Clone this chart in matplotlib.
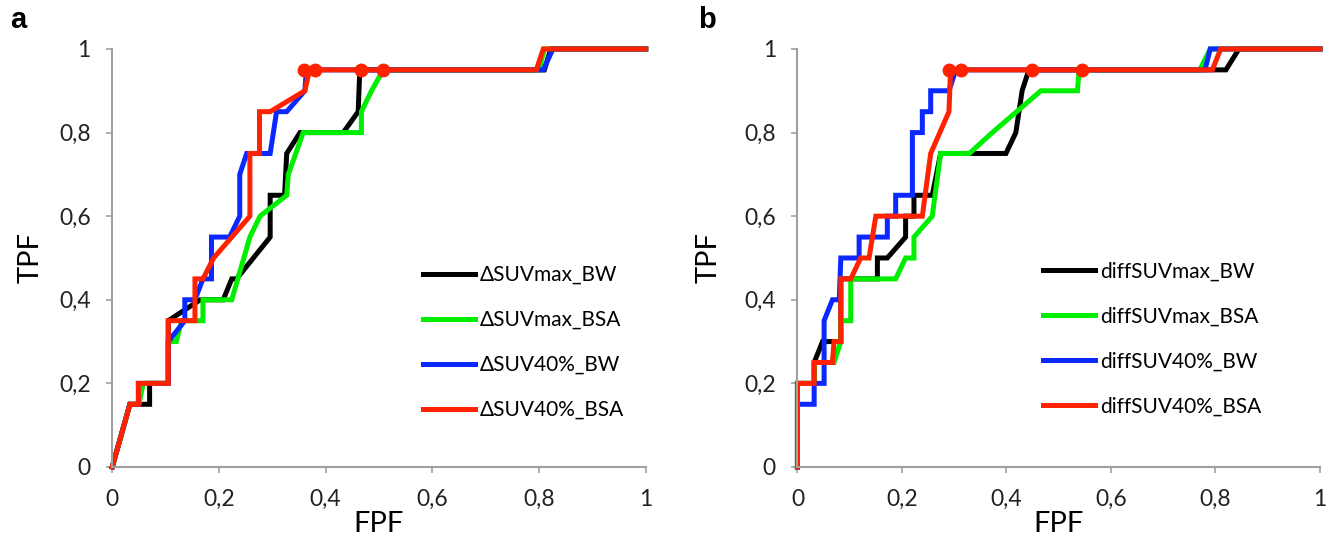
import matplotlib
matplotlib.use("Agg")
import matplotlib.pyplot as plt

plt.rcParams['font.family'] = ['Lato', 'DejaVu Sans']

# panel a: ROC curves (FPF, TPF)
a_black_fpf = [0, 0.033, 0.07, 0.07, 0.105, 0.105, 0.165, 0.208, 0.224, 0.233, 0.296, 0.296, 0.323, 0.327, 0.352, 0.433, 0.461, 0.464, 0.81, 0.822, 1]
a_black_tpf = [0, 0.15, 0.15, 0.2, 0.2, 0.35, 0.4, 0.4, 0.45, 0.45, 0.55, 0.65, 0.65, 0.75, 0.8, 0.8, 0.85, 0.95, 0.95, 1, 1]
a_green_fpf = [0, 0.033, 0.05, 0.058, 0.105, 0.105, 0.12, 0.13, 0.17, 0.17, 0.224, 0.258, 0.277, 0.327, 0.33, 0.358, 0.467, 0.467, 0.486, 0.508, 0.80, 0.81, 1]
a_green_tpf = [0, 0.15, 0.15, 0.2, 0.2, 0.3, 0.3, 0.35, 0.35, 0.4, 0.4, 0.55, 0.6, 0.65, 0.7, 0.8, 0.8, 0.85, 0.9, 0.95, 0.95, 1, 1]
a_blue_fpf = [0, 0.033, 0.049, 0.049, 0.105, 0.105, 0.136, 0.136, 0.155, 0.17, 0.186, 0.186, 0.22, 0.239, 0.239, 0.252, 0.296, 0.308, 0.327, 0.361, 0.364, 0.808, 0.826, 1]
a_blue_tpf = [0, 0.15, 0.15, 0.2, 0.2, 0.3, 0.35, 0.4, 0.4, 0.45, 0.45, 0.55, 0.55, 0.6, 0.7, 0.75, 0.75, 0.85, 0.85, 0.9, 0.95, 0.95, 1, 1]
a_red_fpf = [0, 0.033, 0.049, 0.049, 0.105, 0.105, 0.155, 0.155, 0.17, 0.19, 0.258, 0.258, 0.276, 0.276, 0.296, 0.361, 0.37, 0.795, 0.808, 1]
a_red_tpf = [0, 0.15, 0.15, 0.2, 0.2, 0.35, 0.35, 0.45, 0.45, 0.5, 0.6, 0.75, 0.75, 0.85, 0.85, 0.9, 0.95, 0.95, 1, 1]
a_cut_fpf = [0.36, 0.38, 0.467, 0.508]
a_cut_tpf = [0.95, 0.95, 0.95, 0.95]

# panel b
b_black_fpf = [0, 0, 0.032, 0.032, 0.048, 0.083, 0.083, 0.153, 0.153, 0.172, 0.207, 0.207, 0.223, 0.223, 0.258, 0.274, 0.399, 0.418, 0.43, 0.443, 0.82, 0.845, 1]
b_black_tpf = [0, 0.2, 0.2, 0.25, 0.3, 0.3, 0.45, 0.45, 0.5, 0.5, 0.55, 0.6, 0.6, 0.65, 0.65, 0.75, 0.75, 0.8, 0.9, 0.95, 0.95, 1, 1]
b_green_fpf = [0, 0, 0.032, 0.032, 0.07, 0.083, 0.083, 0.102, 0.102, 0.188, 0.207, 0.223, 0.223, 0.258, 0.274, 0.329, 0.373, 0.466, 0.536, 0.539, 0.77, 0.79, 1]
b_green_tpf = [0, 0.2, 0.2, 0.25, 0.25, 0.3, 0.35, 0.35, 0.45, 0.45, 0.5, 0.5, 0.55, 0.6, 0.75, 0.75, 0.8, 0.9, 0.9, 0.95, 0.95, 1, 1]
b_blue_fpf = [0, 0, 0.032, 0.032, 0.051, 0.051, 0.067, 0.08, 0.083, 0.118, 0.118, 0.172, 0.172, 0.188, 0.188, 0.22, 0.22, 0.239, 0.239, 0.255, 0.255, 0.29, 0.303, 0.78, 0.79, 1]
b_blue_tpf = [0, 0.15, 0.15, 0.2, 0.2, 0.35, 0.4, 0.4, 0.5, 0.5, 0.55, 0.55, 0.6, 0.6, 0.65, 0.65, 0.8, 0.8, 0.85, 0.85, 0.9, 0.9, 0.95, 0.95, 1, 1]
b_red_fpf = [0, 0, 0.032, 0.032, 0.067, 0.07, 0.083, 0.083, 0.102, 0.121, 0.137, 0.15, 0.239, 0.255, 0.29, 0.293, 0.794, 0.81, 1]
b_red_tpf = [0, 0.2, 0.2, 0.25, 0.25, 0.3, 0.3, 0.45, 0.45, 0.5, 0.5, 0.6, 0.6, 0.75, 0.85, 0.95, 0.95, 1, 1]
b_cut_fpf = [0.29, 0.313, 0.448, 0.545]
b_cut_tpf = [0.95, 0.95, 0.95, 0.95]

a_labels = ['ΔSUVmax_BW', 'ΔSUVmax_BSA', 'ΔSUV40%_BW', 'ΔSUV40%_BSA']
b_labels = ['diffSUVmax_BW', 'diffSUVmax_BSA', 'diffSUV40%_BW', 'diffSUV40%_BSA']
ticks = [0, 0.2, 0.4, 0.6, 0.8, 1]
tick_labels = ['0', '0,2', '0,4', '0,6', '0,8', '1']

colors = ['#000000', '#00ee00', '#0a28ff', '#ff2200']

fig = plt.figure(figsize=(13.38, 5.49), dpi=100)
ax_a = fig.add_axes([0.0839, 0.1494, 0.3987, 0.7614])
ax_b = fig.add_axes([0.5960, 0.1494, 0.3905, 0.7614])

panels = [
    (ax_a, [(a_black_fpf, a_black_tpf), (a_green_fpf, a_green_tpf), (a_blue_fpf, a_blue_tpf), (a_red_fpf, a_red_tpf)],
     a_cut_fpf, a_cut_tpf, a_labels, 0.582, 0.483, -0.128),
    (ax_b, [(b_black_fpf, b_black_tpf), (b_green_fpf, b_green_tpf), (b_blue_fpf, b_blue_tpf), (b_red_fpf, b_red_tpf)],
     b_cut_fpf, b_cut_tpf, b_labels, 0.470, 0.491, -0.145),
]

for ax, curves, cx, cy, labels, leg_x, leg_y, ylab_x in panels:
    for (x, y), c, lab in zip(curves, colors, labels):
        ax.plot(x, y, color=c, lw=3.6, label=lab, clip_on=False, solid_joinstyle='miter')
    ax.plot(cx, cy, 'o', color=colors[3], ms=9, clip_on=False, zorder=5)
    ax.set_xlim(0, 1)
    ax.set_ylim(0, 1)
    ax.set_xticks(ticks)
    ax.set_xticklabels(tick_labels)
    ax.set_yticks(ticks)
    ax.set_yticklabels(tick_labels)
    for s in ['top', 'right']:
        ax.spines[s].set_visible(False)
    for s in ['left', 'bottom']:
        ax.spines[s].set_color('#a0a0a0')
        ax.spines[s].set_linewidth(1.5)
    ax.tick_params(direction='out', length=4.5, width=1.2, color='#a0a0a0',
                   labelsize=16.5, pad=11, labelcolor='#222222')
    ax.set_xlabel('FPF', fontsize=21)
    ax.set_ylabel('TPF', fontsize=21)
    ax.xaxis.set_label_coords(0.5, -0.105)
    ax.yaxis.set_label_coords(ylab_x, 0.5)
    ax.legend(loc='upper left', bbox_to_anchor=(leg_x, leg_y), frameon=False, fontsize=15,
              handlelength=2.5, handletextpad=0.25, labelspacing=1.2, borderpad=0, borderaxespad=0)

fig.text(10 / 1338, 1 - 20 / 549, 'a', fontsize=21, fontweight='bold', family='Liberation Sans', va='center')
fig.text(698 / 1338, 1 - 20 / 549, 'b', fontsize=21, fontweight='bold', family='Liberation Sans', va='center')

fig.savefig('out.png', dpi=100)
